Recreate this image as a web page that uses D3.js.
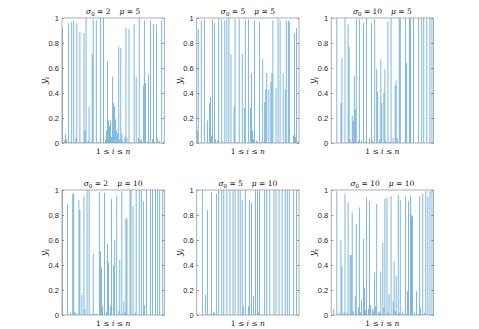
<!DOCTYPE html>
<html><head><meta charset="utf-8">
<script src="https://cdn.jsdelivr.net/npm/d3@7"></script>
<style>body{margin:0;background:#fff}svg{display:block}</style>
</head><body>
<script>
const n = 100;
const sigma0 = [2, 5, 10, 2, 5, 10];
const mu = [5, 5, 5, 10, 10, 10];
const yTicks = [0, 0.2, 0.4, 0.6, 0.8, 1];
const yTickLabels = ["0", "0.2", "0.4", "0.6", "0.8", "1"];

// panel 1: sigma0=2, mu=5
const i1 = [0,3,4,6,9,11,13,14,17,21,22,23,26,29,30,33,37,40,43,44,45,46,47,49,50,51,52,53,54,55,57,58,61,62,63,65,70,72,74,75,77,79,80,81,84,86,88,89,92,93,97,99, 2,8,19,25,28,35,42,48,56,59,67,76,83,90,95];
const y1 = [0.92,0.07,0.03,0.96,0.97,0.98,0.04,0.96,0.89,0.88,0.10,1.0,0.29,0.71,0.99,0.98,1.0,1.0,0.10,0.65,0.18,0.14,0.18,0.53,0.32,0.29,0.19,0.10,0.08,0.77,0.76,0.08,0.05,0.92,0.04,0.91,0.95,0.53,0.04,1.0,0.03,0.46,0.98,0.48,0.55,0.98,0.03,0.95,0.95,0.04,0.98,0.01, 0.02,0.01,0.01,0.02,0.01,0.01,0.03,0.05,0.03,0.02,0.01,0.02,0.01,0.01,0.02];
// panel 2: sigma0=5, mu=5
const i2 = [1,4,7,10,12,13,14,15,17,18,21,24,27,29,31,33,36,37,41,44,46,47,50,52,53,54,55,56,59,61,64,66,67,68,70,72,73,74,77,79,81,84,86,87,89,90,94,95,96,97,99, 0,20,39,58,63];
const y2 = [0.91,0.98,0.99,0.18,0.32,0.37,0.06,0.99,0.96,0.03,1.0,0.99,0.98,0.99,1.0,0.71,0.29,0.99,0.99,0.71,0.28,0.99,0.99,0.28,0.56,0.10,0.03,0.98,0.01,0.97,0.67,0.33,0.43,0.56,0.43,0.49,0.56,0.98,0.44,1.0,0.98,0.56,0.43,0.98,0.98,0.97,0.06,0.88,0.05,0.92,0.01, 0.10,0.02,0.01,0.02,0.01];
// panel 3: sigma0=10, mu=5
const i3 = [5,9,10,13,16,17,20,21,22,23,24,27,31,34,37,39,42,44,45,48,49,51,52,55,58,60,62,63,66,67,72,73,76,77,80,85,88,90,93,96,98, 29,33,40,47,53,57,64,18,26];
const y3 = [1.0,0.32,0.68,1.0,0.95,0.77,0.22,0.18,0.54,0.27,0.99,0.99,0.96,1.0,0.04,0.96,0.99,0.59,0.41,0.67,0.32,0.40,0.59,0.97,1.0,0.04,0.46,0.50,1.0,1.0,1.0,0.64,1.0,1.0,1.0,1.0,1.0,1.0,1.0,1.0,1.0, 0.02,0.01,0.02,0.03,0.02,0.01,0.04,0.03,0.02];
// panel 4: sigma0=2, mu=10
const i4 = [0,5,8,10,11,12,13,16,17,19,21,22,24,26,30,32,33,36,37,38,39,41,44,45,47,48,50,51,53,56,58,60,61,62,63,66,67,69,72,75,77,79,80,82,86,88,91,93,95,98, 28,43,55,71];
const y4 = [1.0,0.89,0.02,0.97,0.97,0.02,0.02,0.92,0.84,0.16,0.95,0.05,1.0,1.0,0.49,0.01,0.01,0.98,0.51,0.38,0.07,0.98,0.57,0.42,0.07,0.93,0.40,0.60,0.95,0.44,0.99,0.11,0.02,0.78,0.77,1.0,1.0,0.87,1.0,1.0,1.0,0.91,0.08,1.0,1.0,1.0,1.0,1.0,1.0,1.0, 0.01,0.02,0.03,0.02];
// panel 5: sigma0=5, mu=10
const i5 = [5,8,10,14,16,17,19,21,24,26,29,32,35,37,40,42,44,45,47,50,51,53,55,57,59,61,66,68,71,75,77,80,83,86,88,90,94,97, 12,60];
const y5 = [1.0,0.16,0.84,0.98,0.02,0.02,0.97,1.0,1.0,1.0,1.0,1.0,1.0,1.0,1.0,1.0,0.92,0.07,1.0,0.07,0.92,0.90,0.15,1.0,1.0,1.0,1.0,1.0,1.0,1.0,1.0,1.0,1.0,1.0,1.0,1.0,1.0,1.0, 0.01,0.02];
// panel 6: sigma0=10, mu=10
const i6 = [2,5,9,10,12,13,15,16,18,19,20,23,24,26,27,29,31,32,34,36,37,40,42,43,44,46,48,50,52,54,56,58,60,61,63,65,67,69,72,74,75,77,78,79,83,86,87,89,92,94,96,98, 7,21,28,33,38,41,47,51,55,62,66,71,81,85,91];
const y6 = [0.05,0.99,0.60,0.39,0.02,0.97,0.02,0.90,0.48,0.48,0.82,0.15,0.73,0.06,0.86,0.12,0.61,0.22,0.94,0.05,0.91,0.05,0.34,0.07,0.89,0.03,0.35,0.58,0.93,0.94,0.17,0.95,0.11,0.43,0.31,0.96,0.92,0.03,0.95,0.19,0.91,0.95,0.80,0.79,0.19,0.95,0.06,0.97,0.99,0.95,0.99,1.0, 0.02,0.03,0.02,0.04,0.08,0.03,0.02,0.06,0.02,0.03,0.02,0.01,0.02,0.01,0.02];

const idxs = [i1, i2, i3, i4, i5, i6];
const vals = [y1, y2, y3, y4, y5, y6];

const W = 479, H = 329;
const lefts = [62, 196.7, 331.2];
const tops = [18, 190];
const pw = 102.3, ph = 125;

const svg = d3.select("body").append("svg").attr("width", W).attr("height", H);
const tickFont = "'Liberation Sans', Arial, sans-serif";
const texFont = "'DejaVu Serif', 'Liberation Serif', serif";

for (let p = 0; p < 6; p++) {
  const L = lefts[p % 3], T = tops[Math.floor(p / 3)];
  const x = d3.scaleBand().domain(d3.range(n)).range([L, L + pw]).paddingInner(0.2).paddingOuter(0.1);
  const y = d3.scaleLinear().domain([0, 1]).range([T + ph, T]);
  const g = svg.append("g");

  const data = idxs[p].map((k, j) => ({ k, v: vals[p][j] }));
  g.selectAll("rect.bar").data(data).enter().append("rect")
    .attr("class", "bar")
    .attr("x", d => x(d.k))
    .attr("width", x.bandwidth())
    .attr("y", d => y(d.v))
    .attr("height", d => y(0) - y(d.v))
    .attr("fill", "#0072BD")
    .attr("fill-opacity", 0.62);

  const ax = g.append("g").attr("transform", `translate(${L},0)`)
    .call(d3.axisLeft(y).tickValues(yTicks).tickFormat((d, i) => yTickLabels[i]).tickSize(-2).tickPadding(3));
  ax.select(".domain").remove();
  ax.selectAll(".tick line").attr("stroke", "#262626").attr("stroke-width", 0.5);
  ax.selectAll(".tick text").attr("font-family", tickFont).attr("font-size", 7.5).attr("fill", "#262626");
  const axr = g.append("g").attr("transform", `translate(${L + pw},0)`)
    .call(d3.axisRight(y).tickValues(yTicks).tickFormat("").tickSize(-2));
  axr.select(".domain").remove();
  axr.selectAll(".tick line").attr("stroke", "#262626").attr("stroke-width", 0.5);

  g.append("rect").attr("x", L).attr("y", T).attr("width", pw).attr("height", ph)
    .attr("fill", "none").attr("stroke", "#9a9a9a").attr("stroke-width", 0.8);

  const t = g.append("text").attr("x", L + pw / 2).attr("y", T - 4)
    .attr("text-anchor", "middle").attr("font-family", texFont).attr("font-size", 7.5).attr("fill", "#111");
  t.append("tspan").attr("font-style", "italic").text("σ");
  t.append("tspan").attr("font-size", 5.5).attr("dy", 1.5).text("0");
  t.append("tspan").attr("dy", -1.5).text(" = " + sigma0[p]);
  t.append("tspan").attr("font-style", "italic").attr("dx", 9).text("μ");
  t.append("tspan").text(" = " + mu[p]);

  const yl = g.append("text").attr("transform", `translate(${L - 15},${T + ph / 2}) rotate(-90)`)
    .attr("text-anchor", "middle").attr("font-family", texFont).attr("font-size", 9).attr("fill", "#111");
  yl.append("tspan").attr("font-style", "italic").text("y");
  yl.append("tspan").attr("font-style", "italic").attr("font-size", 6).attr("dy", 1.8).text("i");

  const xl = g.append("text").attr("x", L + pw / 2).attr("y", T + ph + 10.5)
    .attr("text-anchor", "middle").attr("font-family", texFont).attr("font-size", 7.5).attr("fill", "#111");
  xl.append("tspan").text("1 ≤ ");
  xl.append("tspan").attr("font-style", "italic").text("i");
  xl.append("tspan").text(" ≤ ");
  xl.append("tspan").attr("font-style", "italic").text("n");
}
</script>
</body></html>
